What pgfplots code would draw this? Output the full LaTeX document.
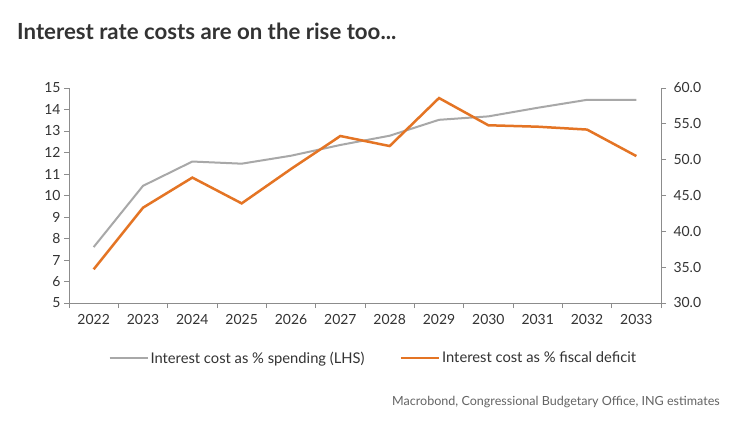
\documentclass[border=0pt]{standalone}
\usepackage{fontspec}
\setmainfont{Lato}
\usepackage{pgfplots}
\pgfplotsset{compat=1.18}

\definecolor{spendgray}{RGB}{168,168,168}
\definecolor{ingorange}{RGB}{228,116,36}
\definecolor{axgray}{RGB}{140,140,140}
\definecolor{txt}{RGB}{51,51,51}
\definecolor{srcgray}{RGB}{100,100,100}

\begin{document}
\begin{tikzpicture}[x=1bp,y=1bp]
\fill[white] (0,0) rectangle (743,423);
\node[anchor=base west, inner sep=0, text=txt,
      font=\bfseries\fontsize{22.3}{25}\selectfont] at (17,384)
  {Interest rate costs are on the rise too...};

\pgfplotsset{every axis/.append style={
    scale only axis, width=592bp, height=215bp,
    at={(69bp,120bp)}, anchor=south west,
    xmin=-0.5, xmax=11.5,
    axis line style={axgray, line width=0.8bp},
    tick style={axgray, line width=0.8bp},
    tick align=outside, major tick length=5bp,
    ticklabel style={font=\fontsize{14}{16}\selectfont, text=txt},
    /pgf/number format/assume math mode=true,
}}

% left axis: interest cost as % of spending
\begin{axis}[
    axis x line*=bottom, axis y line*=left,
    ymin=5, ymax=15, ytick={5,...,15},
    xtick={-0.5,0.5,...,11.5}, xticklabels={},
    extra x ticks={0,...,11},
    extra x tick labels={2022,2023,2024,2025,2026,2027,2028,2029,2030,2031,2032,2033},
    extra x tick style={major tick length=0pt,
      xticklabel style={yshift=-8bp}},
    legend style={draw=none, fill=none, at={(0.514,-0.256)}, anchor=center,
      legend columns=2, font=\fontsize{14.8}{17}\selectfont, text=txt,
      /tikz/every even column/.append style={column sep=33bp}},
    legend image code/.code={\draw[#1] (0bp,0bp) -- (38bp,0bp);},
]
\addplot[spendgray, line width=2bp] coordinates {
  (0,7.6) (1,10.45) (2,11.58) (3,11.48) (4,11.85) (5,12.35)
  (6,12.78) (7,13.52) (8,13.68) (9,14.08) (10,14.45) (11,14.45)};
\addlegendentry{Interest cost as \% spending (LHS)}
\addlegendimage{ingorange, line width=2.5bp}
\addlegendentry{Interest cost as \% fiscal deficit}
\end{axis}

% right axis: interest cost as % of fiscal deficit
\begin{axis}[
    axis x line=none, axis y line*=right,
    ymin=30, ymax=60, ytick={30,35,...,60},
    yticklabel style={xshift=4bp,
      /pgf/number format/.cd, fixed, fixed zerofill, precision=1},
]
\addplot[ingorange, line width=2.5bp] coordinates {
  (0,34.7) (1,43.3) (2,47.5) (3,43.9) (4,48.7) (5,53.3)
  (6,51.9) (7,58.6) (8,54.8) (9,54.6) (10,54.2) (11,50.5)};
\end{axis}

\node[anchor=base east, inner sep=0, text=srcgray,
      font=\fontsize{12.6}{14}\selectfont] at (720,18)
  {Macrobond, Congressional Budgetary Office, ING estimates};
\end{tikzpicture}
\end{document}
